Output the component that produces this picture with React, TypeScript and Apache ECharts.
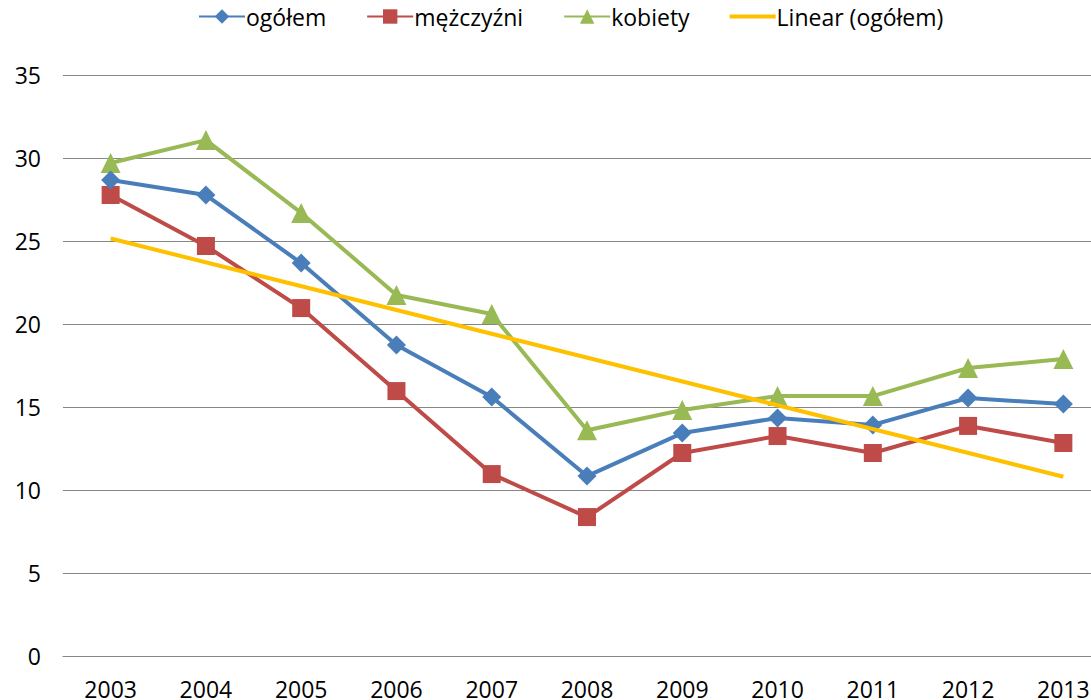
import React, { useEffect, useRef } from "react";
import * as echarts from "echarts";

const years = ["2003", "2004", "2005", "2006", "2007", "2008", "2009", "2010", "2011", "2012", "2013"];
const ogolem = [28.67, 27.77, 23.67, 18.73, 15.6, 10.84, 13.43, 14.34, 13.92, 15.54, 15.18];
const mezczyzni = [27.77, 24.7, 20.96, 15.96, 10.96, 8.37, 12.23, 13.25, 12.23, 13.86, 12.83];
const kobiety = [29.7, 31.08, 26.69, 21.75, 20.6, 13.6, 14.82, 15.66, 15.66, 17.35, 17.89];
const trendYears = ["2003", "2013"];
const trendValues = [25.15, 10.8];

const FONT = "Open Sans";

export default function App() {
  const ref = useRef<HTMLDivElement>(null);
  useEffect(() => {
    if (!ref.current) return;
    const chart = echarts.init(ref.current, undefined, { renderer: "svg" });
    chart.setOption({
      animation: false,
      backgroundColor: "#ffffff",
      textStyle: { fontFamily: FONT },
      legend: {
        top: 0,
        left: 193,
        itemWidth: 46,
        itemHeight: 18,
        itemGap: 40,
        textStyle: { fontFamily: FONT, fontSize: 23, color: "#000", padding: [0, 0, 0, -4] },
        data: [
          "ogółem",
          "mężczyźni",
          "kobiety",
          { name: "Linear (ogółem)", icon: "path://M0,0 L46,0 L46,4 L0,4 Z" },
        ],
      },
      grid: {
        left: 63,
        width: 1048,
        top: 75,
        height: 581,
        containLabel: false,
        outerBoundsMode: "none",
      },
      xAxis: {
        type: "category",
        data: years,
        boundaryGap: true,
        axisLine: { show: true, lineStyle: { color: "#868686", width: 1 } },
        axisTick: { show: false },
        axisLabel: { fontFamily: FONT, fontSize: 23, color: "#000", margin: 21 },
      },
      yAxis: {
        type: "value",
        min: 0,
        max: 35,
        interval: 5,
        axisLine: { show: false },
        axisTick: { show: false },
        axisLabel: { fontFamily: FONT, fontSize: 23, color: "#000", margin: 22 },
        splitLine: { lineStyle: { color: "#868686", width: 1 } },
      },
      series: [
        {
          name: "ogółem",
          type: "line",
          data: ogolem,
          symbol: "diamond",
          symbolSize: 19,
          color: "#4A7EBB",
          lineStyle: { width: 4, color: "#4A7EBB" },
          itemStyle: { color: "#4A7EBB" },
          z: 4,
        },
        {
          name: "mężczyźni",
          type: "line",
          data: mezczyzni,
          symbol: "rect",
          symbolSize: 18,
          color: "#BE4B48",
          lineStyle: { width: 4, color: "#BE4B48" },
          itemStyle: { color: "#BE4B48" },
          z: 3,
        },
        {
          name: "kobiety",
          type: "line",
          data: kobiety,
          symbol: "triangle",
          symbolSize: 20,
          color: "#98B954",
          lineStyle: { width: 4, color: "#98B954" },
          itemStyle: { color: "#98B954" },
          z: 2,
        },
        {
          name: "Linear (ogółem)",
          type: "line",
          data: trendYears.map((y, i) => [y, trendValues[i]]),
          symbol: "none",
          color: "#FFC000",
          lineStyle: { width: 4, color: "#FFC000" },
          itemStyle: { color: "#FFC000" },
          z: 5,
        },
      ],
    });
    return () => chart.dispose();
  }, []);
  return (
    <div
      ref={ref}
      style={{ position: "fixed", left: 0, top: 0, width: 1091, height: 700 }}
    />
  );
}
